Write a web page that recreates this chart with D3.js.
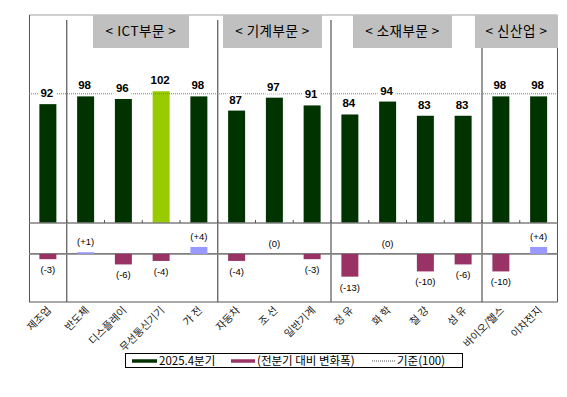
<!DOCTYPE html>
<html><head><meta charset="utf-8">
<script src="https://cdn.jsdelivr.net/npm/d3@7"></script>
<style>body{margin:0;background:#fff}svg{display:block}</style>
</head><body>
<svg id="c" width="567" height="397"></svg>
<script>
const categories = ["제조업","반도체","디스플레이","무선통신기기","가 전","자동차","조 선","일반기계","정 유","화 학","철 강","섬 유","바이오/헬스","이차전지"];
const values2025Q4 = [92,98,96,102,98,87,97,91,84,94,83,83,98,98];
const changeQoQ = [-3,1,-6,-4,4,-4,0,-3,-13,0,-10,-6,-10,4];
const highlightIndex = 3;
const groupNames = ["< ICT부문 >","< 기계부문 >","< 소재부문 >","< 신산업 >"];
const groupFrom = [1,5,8,12];
const zeroLabelCats = ["조 선","화 학"];
const baseline = 100;
const legendLabels = ["2025.4분기","(전분기 대비 변화폭)","기준(100)"];

const svg = d3.select("#c");
const L = 29, R = 557.5, T = 15, Bmid = 223, Bbot = 302;
const font = "'Noto Sans CJK KR', 'Noto Sans', sans-serif";

const x = d3.scaleBand().domain(categories).range([L, R]).paddingInner(0.55).paddingOuter(0.275);
const yTop = d3.scaleLinear().domain([0, 161]).range([Bmid, T]);
const yBot = d3.scaleLinear().domain([-27.5, 17.7]).range([Bbot, Bmid]);

const cGreen = "#003300", cLight = "#99cc00", cMag = "#993366", cBlue = "#9999ff", cLine = "#7f7f7f";
const gap = (x.step()-x.bandwidth())/2;

// frame
svg.append("line").attr("x1",L).attr("x2",R).attr("y1",T).attr("y2",T).attr("stroke","#a0a0a0").attr("stroke-width",1);
svg.append("line").attr("x1",L+0.5).attr("x2",L+0.5).attr("y1",T).attr("y2",Bbot).attr("stroke","#555").attr("stroke-width",1);
svg.append("line").attr("x1",R).attr("x2",R).attr("y1",T).attr("y2",Bbot).attr("stroke","#555").attr("stroke-width",1);
svg.append("line").attr("x1",L).attr("x2",R).attr("y1",Bbot).attr("y2",Bbot).attr("stroke","#555").attr("stroke-width",1);

// group headers & dividers
const boxX = [93, 223, 353, 475], boxW = [96, 99, 99, 83];
groupNames.forEach((name, gi) => {
  const gx0 = x(categories[groupFrom[gi]]) - gap;
  const bx = boxX[gi], w = boxW[gi];
  svg.append("rect").attr("x",bx).attr("y",T).attr("width",w).attr("height",33).attr("fill","#c0c0c0");
  svg.append("text").attr("x",bx+w/2).attr("y",T+21).attr("text-anchor","middle")
    .attr("font-family",font).attr("font-size",13.5).attr("letter-spacing",0.5).attr("fill","#000").text(name);
  const top = gi === 3 ? T+33 : T+5;
  svg.append("line").attr("x1",gx0).attr("x2",gx0).attr("y1",top).attr("y2",Bbot).attr("stroke","#555").attr("stroke-width",1.2);
});

// top bars
svg.selectAll(".bar").data(categories).join("rect")
  .attr("x", d => x(d)).attr("width", x.bandwidth())
  .attr("y", (d,i) => yTop(values2025Q4[i])).attr("height", (d,i) => yTop(0)-yTop(values2025Q4[i]))
  .attr("fill", (d,i) => i===highlightIndex ? cLight : cGreen);

// reference line
svg.append("line").attr("x1",L).attr("x2",R).attr("y1",yTop(baseline)).attr("y2",yTop(baseline))
  .attr("stroke","#777").attr("stroke-width",1).attr("stroke-dasharray","1,1");

// top labels
categories.forEach((d,i) => {
  const cx = x(d)+x.bandwidth()/2 - 1;
  const ty = yTop(values2025Q4[i]) - 7;
  const txt = String(values2025Q4[i]);
  const w = txt.length*7+4;
  svg.append("rect").attr("x",cx-w/2).attr("y",ty-10).attr("width",w).attr("height",13).attr("fill","#fff");
  svg.append("text").attr("x",cx).attr("y",ty).attr("text-anchor","middle")
    .attr("font-family","'Liberation Sans', Arial, sans-serif").attr("font-weight","bold").attr("font-size",11.5).text(txt);
});

// mid and zero lines
svg.append("line").attr("x1",L).attr("x2",R).attr("y1",Bmid).attr("y2",Bmid).attr("stroke",cLine).attr("stroke-width",1.5);
svg.append("line").attr("x1",L).attr("x2",R).attr("y1",yBot(0)).attr("y2",yBot(0)).attr("stroke",cLine).attr("stroke-width",1.8);

// ticks on mid line
categories.forEach((d,i) => {
  const tx = x(d) - gap;
  if (i>0) svg.append("line").attr("x1",tx).attr("x2",tx).attr("y1",Bmid-3).attr("y2",Bmid).attr("stroke","#555");
});

// bottom bars
svg.selectAll(".cbar").data(categories).join("rect")
  .attr("x", d => x(d)).attr("width", x.bandwidth())
  .attr("y", (d,i) => yBot(Math.max(0,changeQoQ[i]))).attr("height", (d,i) => Math.abs(yBot(changeQoQ[i])-yBot(0)))
  .attr("fill", (d,i) => changeQoQ[i] >= 0 ? cBlue : cMag);

// bottom labels
categories.forEach((d,i) => {
  const v = changeQoQ[i];
  if (v === 0 && !zeroLabelCats.includes(d)) return;
  const cx = x(d)+x.bandwidth()/2;
  const ty = v >= 0 ? yBot(v) - 7 : yBot(v) + 14;
  const txt = v > 0 ? "(+"+v+")" : "("+(v<0?"-"+(-v):"0")+")";
  svg.append("text").attr("x",cx).attr("y",ty).attr("text-anchor","middle")
    .attr("font-family","'Liberation Sans', Arial, sans-serif").attr("font-size",9.5).text(txt);
});

// x labels
categories.forEach(d => {
  const cx = x(d)+x.bandwidth()/2;
  svg.append("text").attr("transform",`translate(${cx+4},${Bbot+9}) rotate(-45)`)
    .attr("text-anchor","end").attr("font-family",font).attr("font-size",10.5).attr("fill","#222").text(d);
});

// legend
const lg = svg.append("g");
lg.append("rect").attr("x",125.5).attr("y",353.5).attr("width",337).attr("height",14).attr("fill","#fff").attr("stroke","#000");
lg.append("line").attr("x1",132).attr("x2",157).attr("y1",361).attr("y2",361).attr("stroke",cGreen).attr("stroke-width",3.5);
lg.append("text").attr("x",159).attr("y",365).attr("font-family",font).attr("font-size",11.5).text(legendLabels[0]);
lg.append("line").attr("x1",231).attr("x2",255).attr("y1",361).attr("y2",361).attr("stroke",cMag).attr("stroke-width",3.5);
lg.append("text").attr("x",257).attr("y",365).attr("font-family",font).attr("font-size",11.5).text(legendLabels[1]);
lg.append("line").attr("x1",372).attr("x2",395).attr("y1",361).attr("y2",361).attr("stroke","#555").attr("stroke-dasharray","1,1");
lg.append("text").attr("x",397).attr("y",365).attr("font-family",font).attr("font-size",11.5).text(legendLabels[2]);
</script>
</body></html>
